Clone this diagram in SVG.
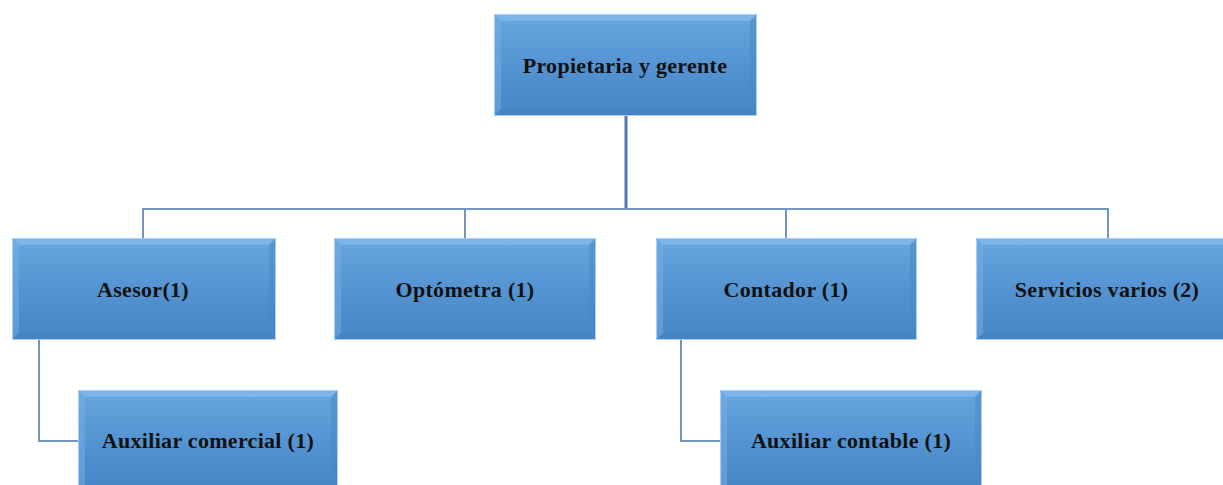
<svg xmlns="http://www.w3.org/2000/svg" width="1223" height="485" viewBox="0 0 1223 485">
<defs>
<linearGradient id="g" x1="0" y1="0" x2="0" y2="1">
<stop offset="0" stop-color="#68a6de"/>
<stop offset="0.5" stop-color="#5494d2"/>
<stop offset="1" stop-color="#4684c6"/>
</linearGradient>
<symbol id="box" viewBox="0 0 262 102" preserveAspectRatio="none">
<rect x="0" y="0" width="262" height="102" fill="url(#g)"/>
<polygon points="0,0 262,0 255,7 7,7" fill="#88bcec" opacity="0.7"/>
<polygon points="0,0 7,7 7,95 0,102" fill="#78b0e4" opacity="0.5"/>
<polygon points="262,0 262,102 255,95 255,7" fill="#4a86c6" opacity="0.5"/>
<polygon points="0,102 7,95 255,95 262,102" fill="#4480c2" opacity="0.4"/>
<rect x="0.5" y="0.5" width="261" height="101" fill="none" stroke="#a8d0f4" stroke-width="1"/>
</symbol>
</defs>
<style>
.t{font-family:"Liberation Serif","Times New Roman",serif;font-weight:bold;font-size:22px;letter-spacing:0.3px;fill:#111;text-anchor:middle;dominant-baseline:central}
.c{fill:none;stroke:#7096c2;stroke-width:2}
.m{fill:none;stroke:#4a7ab0;stroke-width:3}
</style>
<rect width="1223" height="485" fill="#fff"/>
<g id="connectors">
<path class="m" d="M626,116 V209"/>
<path class="c" d="M143,238 V209 H1108 V238 M465,209 V238 M786,209 V238"/>
<path class="c" d="M39,340 V441 H78"/>
<path class="c" d="M681,340 V441 H720"/>
</g>
<g id="n-propietaria"><use href="#box" x="494" y="14" width="263" height="102"/><text class="t" x="625" y="65">Propietaria y gerente</text></g>
<g id="n-asesor"><use href="#box" x="12" y="238" width="264" height="102"/><text class="t" x="143" y="289">Asesor(1)</text></g>
<g id="n-optometra"><use href="#box" x="334" y="238" width="262" height="102"/><text class="t" x="465" y="289">Optómetra (1)</text></g>
<g id="n-contador"><use href="#box" x="656" y="238" width="261" height="102"/><text class="t" x="786" y="289">Contador (1)</text></g>
<g id="n-servicios"><use href="#box" x="976" y="238" width="262" height="102"/><text class="t" x="1107" y="289">Servicios varios (2)</text></g>
<g id="n-auxcomercial"><use href="#box" x="78" y="390" width="260" height="102"/><text class="t" x="208" y="440">Auxiliar comercial (1)</text></g>
<g id="n-auxcontable"><use href="#box" x="720" y="390" width="262" height="102"/><text class="t" x="851" y="440">Auxiliar contable (1)</text></g>
</svg>
